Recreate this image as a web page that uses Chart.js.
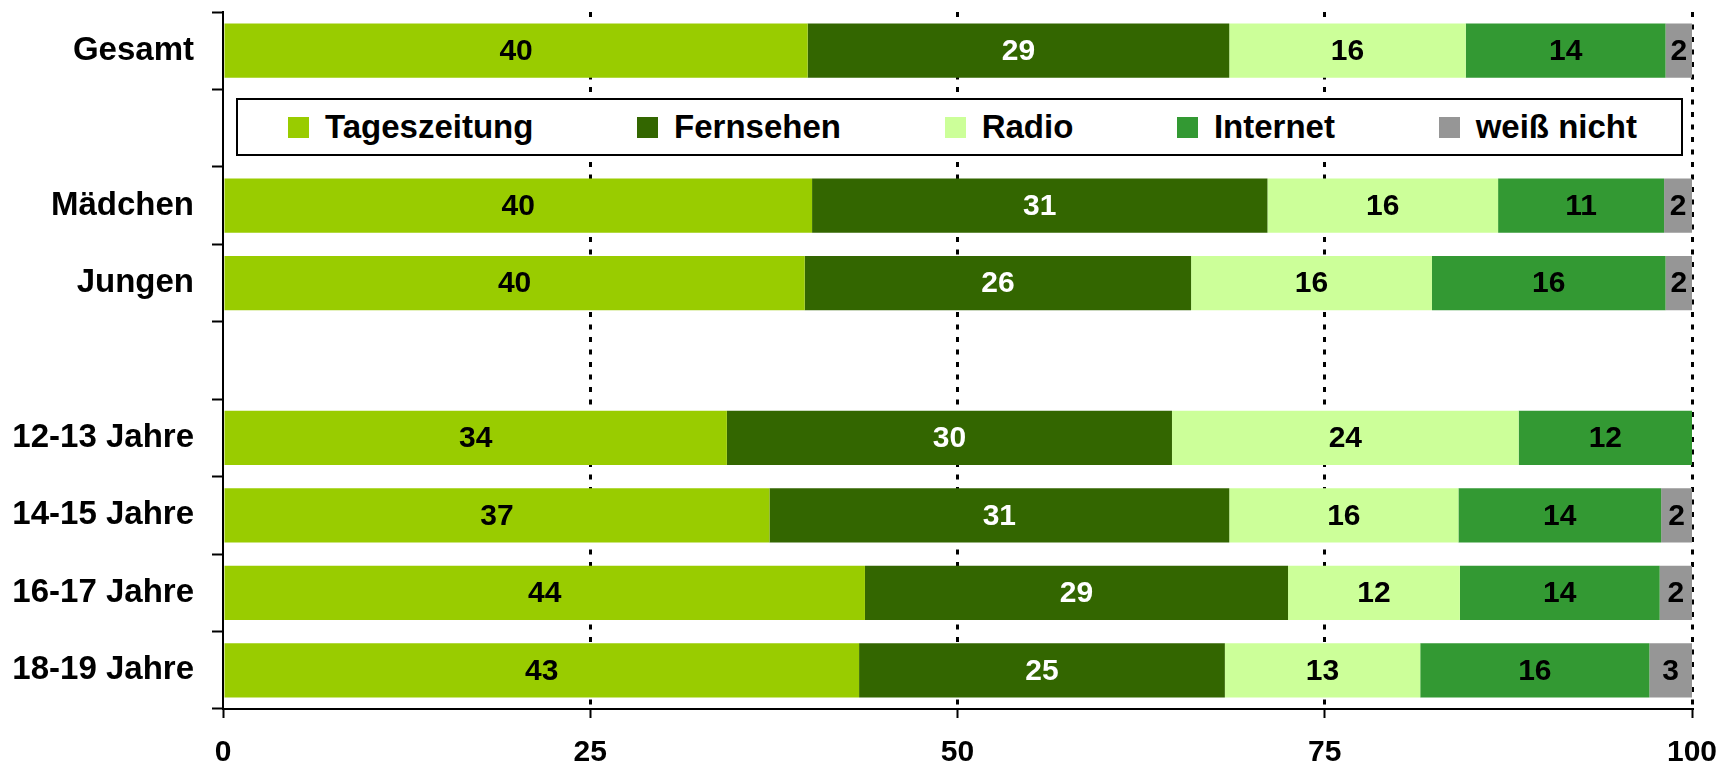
<!DOCTYPE html>
<html lang="de">
<head>
<meta charset="utf-8">
<title>Informationsquellen</title>
<script src="https://cdn.jsdelivr.net/npm/chart.js@4.4.0/dist/chart.umd.js"></script>
<style>
    html, body {
        margin: 0;
        padding: 0;
        background: #fff;
    }

    .chart-wrap {
        position: relative;
        width: 1731px;
        height: 764px;
    }

    .legend-box {
        position: absolute;
        left: 236px;
        top: 98px;
        width: 1447px;
        height: 58px;
        box-sizing: border-box;
        border: 2px solid #000;
        background: #fff;
        display: flex;
        align-items: center;
        justify-content: space-between;
        padding: 0 44px 0 50px;
        font: bold 33px 'Liberation Sans', Arial, sans-serif;
        color: #000;
    }

    .legend-item {
        display: flex;
        align-items: center;
        white-space: nowrap;
    }

    .legend-swatch {
        width: 21px;
        height: 21px;
        margin-right: 16px;
    }
</style>
</head>
<body>
<div class="chart-wrap">
    <canvas id="chart" width="1731" height="764"></canvas>
    <div class="legend-box" id="legend"></div>
</div>

<script>
// Rows (empty strings are the spacer rows)
const categories = ['Gesamt', '', 'Mädchen', 'Jungen', '', '12-13 Jahre', '14-15 Jahre', '16-17 Jahre', '18-19 Jahre'];
const seriesNames = ['Tageszeitung', 'Fernsehen', 'Radio', 'Internet', 'weiß nicht'];

// Shares in percent
const tageszeitung = [39.8, null, 40.1, 39.6, null, 34.3, 37.2, 43.7, 43.3];
const fernsehen    = [28.7, null, 31.0, 26.3, null, 30.3, 31.3, 28.8, 24.9];
const radio        = [16.1, null, 15.7, 16.4, null, 23.6, 15.6, 11.7, 13.3];
const internet     = [13.6, null, 11.3, 15.9, null, 11.8, 13.8, 13.6, 15.6];
const weissNicht   = [1.8, null, 1.9, 1.8, null, 0, 2.1, 2.2, 2.9];

const xTicks = [0, 25, 50, 75, 100];

const seriesValues = [tageszeitung, fernsehen, radio, internet, weissNicht];
const palette = ['#99cc00', '#336600', '#ccff99', '#339933', '#969696'];
const labelInk = ['#000', '#fff', '#000', '#000', '#000'];

const FONT = "'Liberation Sans', Arial, sans-serif";
Chart.defaults.font.family = FONT;
Chart.defaults.color = '#000';

// Legend (HTML, boxed, sitting inside the plot)
const legendEl = document.getElementById('legend');
seriesNames.forEach((name, i) => {
    const item = document.createElement('div');
    item.className = 'legend-item';
    const sw = document.createElement('span');
    sw.className = 'legend-swatch';
    sw.style.background = palette[i];
    const txt = document.createElement('span');
    txt.textContent = name;
    item.appendChild(sw);
    item.appendChild(txt);
    legendEl.appendChild(item);
});

// Rounded value in the middle of each segment
const barLabels = {
    id: 'barLabels',
    afterDatasetsDraw(chart) {
        const ctx = chart.ctx;
        ctx.save();
        ctx.font = 'bold 30px ' + FONT;
        ctx.textAlign = 'center';
        ctx.textBaseline = 'middle';
        chart.data.datasets.forEach((ds, i) => {
            chart.getDatasetMeta(i).data.forEach((bar, j) => {
                const v = ds.data[j];
                if (!v) return;
                const p = bar.getCenterPoint();
                ctx.fillStyle = labelInk[i];
                ctx.fillText(String(Math.round(v)), p.x, p.y + 1);
            });
        });
        ctx.restore();
    }
};

new Chart(document.getElementById('chart').getContext('2d'), {
    type: 'bar',
    data: {
        labels: categories,
        datasets: seriesNames.map((name, i) => ({
            label: name,
            data: seriesValues[i],
            backgroundColor: palette[i],
            borderWidth: 0,
            barPercentage: 0.7,
            categoryPercentage: 1.0
        }))
    },
    options: {
        indexAxis: 'y',
        responsive: false,
        animation: false,
        layout: {
            padding: { top: 12, right: 39, bottom: 0, left: 0 }
        },
        plugins: {
            legend: { display: false },
            tooltip: { enabled: false }
        },
        scales: {
            x: {
                stacked: true,
                min: 0,
                max: 100,
                afterBuildTicks: axis => {
                    axis.ticks = xTicks.map(v => ({ value: v }));
                },
                afterFit: axis => {
                    axis.height = 55;
                    axis.paddingLeft = 0;
                    axis.paddingRight = 0;
                },
                ticks: {
                    font: { size: 30, weight: 'bold' },
                    color: '#000',
                    padding: 17,
                    maxRotation: 0
                },
                grid: {
                    color: c => (c.tick && c.tick.value === 0) ? 'rgba(0,0,0,0)' : '#000',
                    lineWidth: 3,
                    tickColor: '#000',
                    tickWidth: 2,
                    tickLength: 9,
                    tickBorderDash: []
                },
                border: {
                    display: true,
                    color: '#000',
                    width: 2,
                    dash: [5, 7.5]
                }
            },
            y: {
                stacked: true,
                afterFit: axis => {
                    axis.width = 223;
                    axis.paddingTop = 0;
                    axis.paddingBottom = 0;
                },
                ticks: {
                    font: { size: 33, weight: 'bold' },
                    color: '#000',
                    padding: 18,
                    autoSkip: false
                },
                grid: {
                    offset: true,
                    drawOnChartArea: false,
                    drawTicks: true,
                    tickLength: 11,
                    tickWidth: 2,
                    tickColor: '#000'
                },
                border: {
                    display: true,
                    color: '#000',
                    width: 2
                }
            }
        }
    },
    plugins: [barLabels]
});
</script>
</body>
</html>
